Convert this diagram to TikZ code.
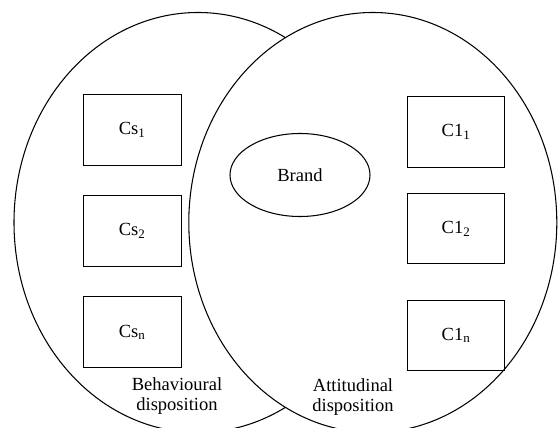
\documentclass[tikz,border=0pt]{standalone}
\usepackage{fontspec}
\setmainfont{Liberation Serif}
\usetikzlibrary{shapes.geometric}
\begin{document}
\begin{tikzpicture}[x=0.03cm, y=-0.03cm, line width=0.9pt,
    font=\fontsize{15.8}{17.7}\selectfont,
    region/.style={draw, ellipse, inner sep=0pt, minimum width=11.04cm, minimum height=12.6cm},
    cbox/.style={draw, rectangle, minimum width=2.93cm, minimum height=2.12cm}]
        \useasboundingbox (0,0) rectangle (558,428);

        % Dispositions
        \node[region] (behav) at (198,222.5) {};
        \node[region, fill=white] (attit) at (372.8,222.5) {};

        % Brand
        \node[draw, ellipse, inner sep=0pt, minimum width=4.2cm, minimum height=2.49cm] (brand) at (300,175) {Brand};

        % Behavioural components
        \node[cbox] (cs1) at (132.2,129.8) {Cs\textsubscript{1}};
        \node[cbox] (cs2) at (132.2,231.2) {Cs\textsubscript{2}};
        \node[cbox] (csn) at (132.2,332.3) {Cs\textsubscript{n}};

        % Attitudinal components
        \node[cbox] (cl1) at (456,132) {C1\textsubscript{1}};
        \node[cbox] (cl2) at (456,228.5) {C1\textsubscript{2}};
        \node[cbox] (cln) at (456,335.5) {C1\textsubscript{n}};

        % Labels
        \node[align=center, inner sep=0pt] (behavlabel) at (177,396) {Behavioural\\disposition};
        \node[align=center, inner sep=0pt] (attitlabel) at (353,397) {Attitudinal\\disposition};
    \end{tikzpicture}
\end{document}
